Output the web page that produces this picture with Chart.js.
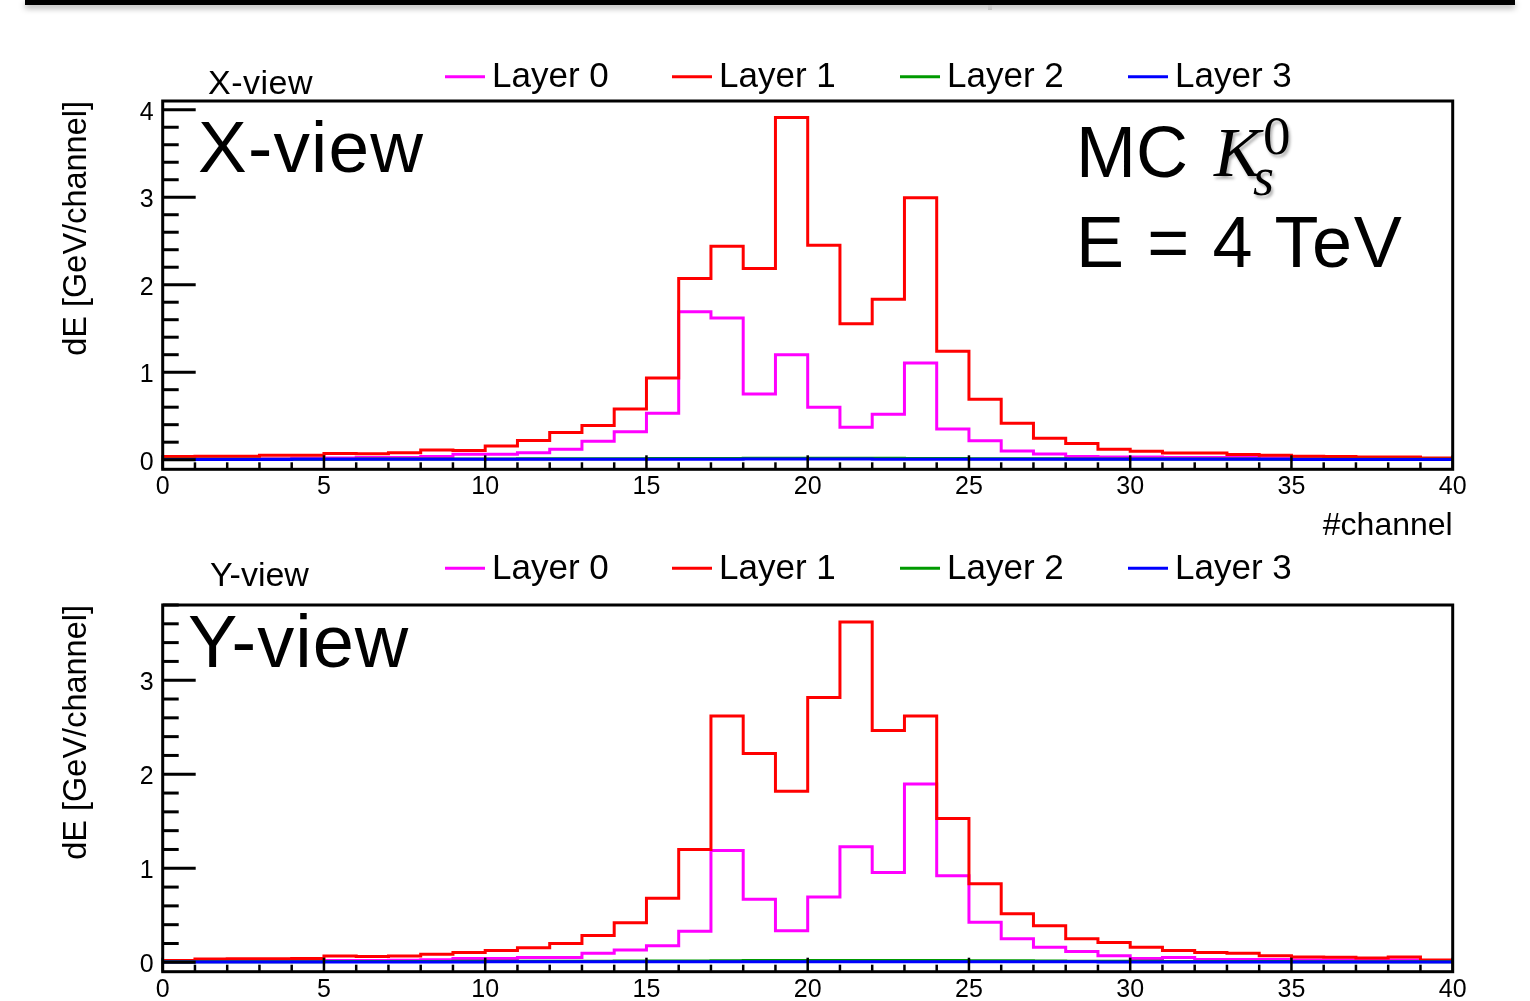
<!DOCTYPE html>
<html>
<head>
<meta charset="utf-8">
<script src="https://cdn.jsdelivr.net/npm/chart.js@4.4.0/dist/chart.umd.min.js"></script>
<style>
html,body{margin:0;padding:0;background:#fff;width:1530px;height:1001px;overflow:hidden;position:relative;font-family:"Liberation Sans",Arial,Helvetica,sans-serif;}
canvas{position:absolute;left:0;}
#bar{position:absolute;left:25px;top:0;width:1490px;height:5px;background:#000;box-shadow:0 3px 6px rgba(0,0,0,0.35);}
#mark{position:absolute;left:988px;top:5px;width:4px;height:5px;background:#c8c8c8;}
.t{position:absolute;white-space:nowrap;line-height:1;color:#000;}
.m{font-family:"Liberation Serif","DejaVu Serif",serif;font-style:italic;text-shadow:2px 3px 3px rgba(0,0,0,0.3);}
</style>
</head>
<body>
<div id="bar"></div><div id="mark"></div>
<canvas id="cx" width="1530" height="545" style="top:0;width:1530px;height:545px"></canvas>
<canvas id="cy" width="1530" height="456" style="top:545px;width:1530px;height:456px"></canvas>

<div class="t" style="left:208px;top:64.5px;font-size:34px;letter-spacing:0.5px">X-view</div>
<div class="t" style="left:210px;top:557px;font-size:34px">Y-view</div>
<div class="t" style="left:198px;top:110px;font-size:73px;letter-spacing:1.2px">X-view</div>
<div class="t" style="left:188px;top:605px;font-size:74px;letter-spacing:1px">Y-view</div>
<div class="t" style="left:1076px;top:115.7px;font-size:72px">MC</div>
<div class="t m" style="left:1214px;top:118px;font-size:70px">K</div>
<div class="t m" style="left:1263px;top:108px;font-size:55px;font-style:normal">0</div>
<div class="t m" style="left:1253px;top:150px;font-size:54px">s</div>
<div class="t" style="left:1076px;top:205.7px;font-size:72px;letter-spacing:1.6px">E = 4 TeV</div>

<script>
// ---------- data ----------
const xTickLabels = [0, 5, 10, 15, 20, 25, 30, 35, 40];
const yTicksXView = [0, 1, 2, 3, 4];
const yTicksYView = [0, 1, 2, 3];
const layerNames = ['Layer 0', 'Layer 1', 'Layer 2', 'Layer 3'];
const layerColors = ['#ff00ff', '#ff0000', '#009a00', '#0000ff'];

// X-view, dE per channel (bins 0..39)
const xViewLayer0 = [0.008,0.010,0.010,0.012,0.015,0.018,0.025,0.026,0.036,0.062,0.063,0.078,0.120,0.210,0.320,0.530,1.690,1.620,0.750,1.200,0.600,0.370,0.520,1.105,0.350,0.215,0.100,0.065,0.035,0.030,0.030,0.025,0.025,0.025,0.022,0.020,0.018,0.015,0.015,0.012];
const xViewLayer1 = [0.035,0.040,0.038,0.050,0.052,0.070,0.068,0.080,0.110,0.105,0.155,0.220,0.310,0.390,0.580,0.935,2.070,2.440,2.185,3.910,2.450,1.555,1.835,2.995,1.240,0.690,0.415,0.245,0.185,0.120,0.095,0.075,0.075,0.060,0.050,0.040,0.035,0.030,0.030,0.020];
const xViewLayer2 = [0.005,0.005,0.005,0.006,0.006,0.006,0.007,0.007,0.008,0.008,0.009,0.010,0.010,0.011,0.012,0.013,0.014,0.014,0.015,0.016,0.016,0.015,0.015,0.014,0.013,0.012,0.011,0.010,0.009,0.009,0.008,0.008,0.007,0.007,0.006,0.006,0.006,0.005,0.005,0.005];
const xViewLayer3 = [0.003,0.003,0.003,0.003,0.004,0.004,0.004,0.004,0.004,0.005,0.005,0.005,0.005,0.005,0.006,0.006,0.006,0.006,0.007,0.007,0.007,0.007,0.006,0.006,0.006,0.006,0.005,0.005,0.005,0.005,0.004,0.004,0.004,0.004,0.004,0.003,0.003,0.003,0.003,0.003];

// Y-view, dE per channel (bins 0..39)
const yViewLayer0 = [0.008,0.010,0.012,0.012,0.014,0.018,0.020,0.022,0.028,0.040,0.040,0.050,0.050,0.095,0.130,0.175,0.330,1.190,0.670,0.335,0.695,1.230,0.955,1.895,0.920,0.425,0.250,0.160,0.115,0.070,0.040,0.050,0.030,0.030,0.030,0.025,0.025,0.025,0.025,0.020];
const yViewLayer1 = [0.020,0.035,0.038,0.038,0.040,0.067,0.062,0.067,0.085,0.105,0.125,0.155,0.200,0.285,0.420,0.680,1.200,2.620,2.220,1.820,2.815,3.620,2.465,2.620,1.530,0.835,0.515,0.390,0.250,0.210,0.160,0.125,0.105,0.095,0.070,0.057,0.053,0.046,0.057,0.025];
const yViewLayer2 = [0.006,0.006,0.006,0.007,0.007,0.008,0.008,0.009,0.009,0.010,0.010,0.011,0.012,0.012,0.013,0.014,0.015,0.017,0.018,0.018,0.019,0.020,0.020,0.019,0.018,0.017,0.016,0.014,0.012,0.011,0.010,0.009,0.009,0.008,0.008,0.007,0.007,0.006,0.006,0.006];
const yViewLayer3 = [0.003,0.003,0.003,0.003,0.003,0.004,0.004,0.004,0.004,0.004,0.005,0.005,0.005,0.005,0.005,0.006,0.006,0.006,0.006,0.006,0.006,0.006,0.006,0.006,0.006,0.005,0.005,0.005,0.005,0.004,0.004,0.004,0.004,0.004,0.003,0.003,0.003,0.003,0.003,0.003];

// ---------- helpers ----------
const FONT = '"Liberation Sans", Arial, Helvetica, sans-serif';
const toSteps = vals => vals.map((v, i) => ({x: i, y: v})).concat([{x: vals.length, y: vals[vals.length - 1]}]);

const framePlugin = {
  id: 'rootFrame',
  afterDatasetsDraw(chart) {
    const {ctx, chartArea: a, scales: {x, y}} = chart;
    ctx.save();
    ctx.strokeStyle = '#000';
    ctx.lineCap = 'butt';
    ctx.lineWidth = 2.5;
    for (let v = Math.ceil(x.min); v <= x.max; v++) {
      const px = x.getPixelForValue(v);
      const len = v % 5 === 0 ? 14 : 7;
      ctx.beginPath(); ctx.moveTo(px, a.bottom); ctx.lineTo(px, a.bottom - len); ctx.stroke();
    }
    ctx.lineWidth = 3;
    for (let k = Math.ceil(y.min / 0.2 - 1e-9); k * 0.2 <= y.max + 1e-9; k++) {
      const py = y.getPixelForValue(k * 0.2);
      const len = k % 5 === 0 ? 33 : 16;
      ctx.beginPath(); ctx.moveTo(a.left, py); ctx.lineTo(a.left + len, py); ctx.stroke();
    }
    ctx.lineWidth = 3;
    ctx.strokeRect(a.left, a.top, a.right - a.left, a.bottom - a.top);
    ctx.restore();
  }
};

const legendPlugin = {
  id: 'rootLegend',
  afterDraw(chart, args, opts) {
    const {ctx} = chart;
    ctx.save();
    ctx.font = '35px ' + FONT;
    ctx.textBaseline = 'alphabetic';
    ctx.textAlign = 'left';
    chart.data.datasets.forEach((ds, i) => {
      const x0 = opts.xs[i];
      ctx.strokeStyle = ds.borderColor;
      ctx.lineWidth = 3;
      ctx.beginPath(); ctx.moveTo(x0, opts.lineY); ctx.lineTo(x0 + 40, opts.lineY); ctx.stroke();
      ctx.fillStyle = '#000';
      ctx.fillText(ds.label, x0 + 47, opts.textY);
    });
    ctx.restore();
  }
};

function makeChart(id, series, o) {
  return new Chart(document.getElementById(id), {
    type: 'line',
    data: {
      datasets: series.map((vals, i) => ({
        label: layerNames[i],
        data: toSteps(vals),
        borderColor: layerColors[i],
        backgroundColor: layerColors[i],
        borderWidth: 3,
        stepped: true,
        pointRadius: 0,
        fill: false,
        order: 3 - i,
        borderJoinStyle: 'miter',
        borderCapStyle: 'butt'
      }))
    },
    options: {
      responsive: false,
      animation: false,
      devicePixelRatio: 1,
      layout: {padding: {left: 0, right: 77.3, top: o.top, bottom: 0}},
      plugins: {
        legend: {display: false},
        tooltip: {enabled: false},
        rootLegend: {xs: [445, 672, 900, 1128], lineY: o.legLineY, textY: o.legTextY}
      },
      scales: {
        x: {
          type: 'linear', min: 0, max: 40,
          grid: {display: false, drawTicks: false},
          border: {display: false},
          afterBuildTicks: s => { s.ticks = xTickLabels.map(v => ({value: v})); },
          afterFit: s => { s.height = o.xH; },
          ticks: {font: {family: FONT, size: 25}, color: '#000', padding: 3, maxRotation: 0, autoSkip: false},
          title: {display: o.xTitle, text: '#channel', align: 'end', color: '#000',
                  font: {family: FONT, size: 32}, padding: {top: 0, bottom: 0}}
        },
        y: {
          type: 'linear', min: o.yMin, max: o.yMax,
          grid: {display: false, drawTicks: false},
          border: {display: false},
          afterBuildTicks: s => { s.ticks = o.yTicks.map(v => ({value: v})); },
          afterFit: s => { s.width = 162.7; },
          ticks: {font: {family: FONT, size: 25}, color: '#000', padding: 9, labelOffset: 3},
          title: {display: true, text: 'dE [GeV/channel]', align: 'end', color: '#000',
                  font: {family: FONT, size: 32.5}, padding: {top: 58, bottom: 0}}
        }
      }
    },
    plugins: [framePlugin, legendPlugin]
  });
}

makeChart('cx', [xViewLayer0, xViewLayer1, xViewLayer2, xViewLayer3],
  {top: 101, xH: 75.7, xTitle: true, yMin: -0.11, yMax: 4.1, yTicks: yTicksXView, legLineY: 76.7, legTextY: 86.7});
makeChart('cy', [yViewLayer0, yViewLayer1, yViewLayer2, yViewLayer3],
  {top: 60, xH: 29.3, xTitle: false, yMin: -0.1, yMax: 3.8, yTicks: yTicksYView, legLineY: 23.3, legTextY: 34.3});
</script>
</body>
</html>
